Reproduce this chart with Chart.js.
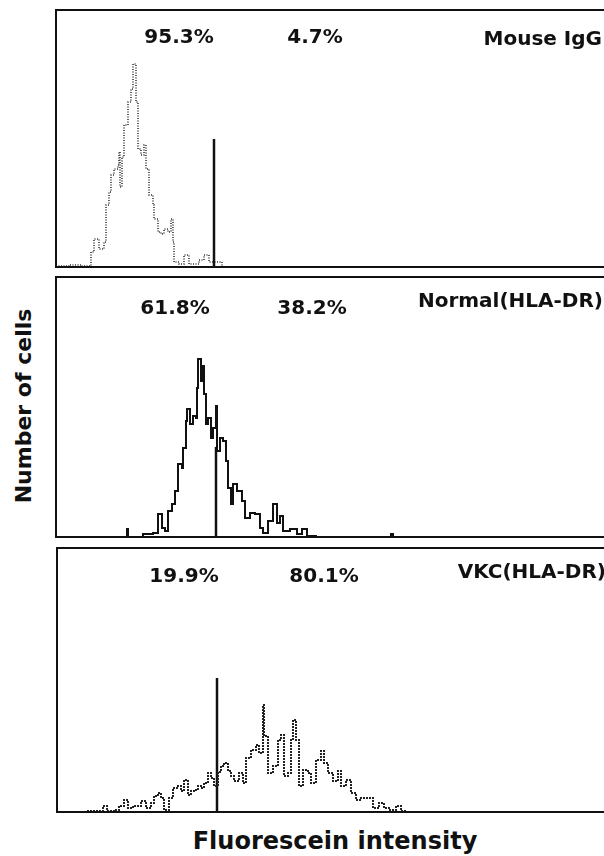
<!DOCTYPE html>
<html>
<head>
<meta charset="utf-8">
<script src="https://cdn.jsdelivr.net/npm/chart.js@4"></script>
<style>
  html, body { margin: 0; padding: 0; background: #fff; }
  body { width: 604px; height: 856px; position: relative; overflow: hidden; }
  canvas.panel { position: absolute; }
  .axis-title { position: absolute; font-family: "DejaVu Sans", sans-serif; font-weight: bold; color: #111; white-space: nowrap; }
</style>
</head>
<body>
<canvas id="p1" class="panel" width="620" height="261" style="left:54px; top:8px;"></canvas>
<canvas id="p2" class="panel" width="620" height="264" style="left:54px; top:275px;"></canvas>
<canvas id="p3" class="panel" width="620" height="268" style="left:55px; top:546px;"></canvas>
<div class="axis-title" id="ytitle" style="font-size:22px; left:23px; top:406px; transform: translate(-50%,-50%) rotate(-90deg);">Number of cells</div>
<div class="axis-title" id="xtitle" style="font-size:24px; left:335px; top:841px; transform: translate(-50%,-50%);">Fluorescein intensity</div>
<script>
// canais de fluorescencia (x) e numero de celulas (y)
const mouseChannels = [0, 13, 25, 33, 35, 38, 43, 48, 50, 53, 55, 58, 62, 63, 64, 66, 68, 72, 75, 77, 80, 82, 85, 88, 90, 93, 97, 98, 102, 105, 108, 112, 115, 117, 118, 123, 128, 133, 143, 148, 153, 163, 166];
const mouseCounts   = [1, 2, 1, 1, 15, 28, 18, 25, 62, 75, 92, 98, 102, 115, 80, 110, 142, 165, 178, 203, 165, 118, 112, 122, 98, 72, 62, 48, 35, 33, 38, 35, 48, 25, 5, 3, 12, 3, 7, 12, 5, 5, 0];

const normalChannels = [60, 71, 72, 87, 97, 102, 106, 109, 112, 116, 119, 122, 126, 127, 130, 131, 134, 137, 140, 141, 142, 145, 147, 148, 150, 152, 155, 157, 160, 161, 164, 167, 170, 172, 175, 177, 181, 186, 189, 194, 199, 204, 207, 212, 217, 221, 224, 227, 234, 241, 246, 251, 260, 335, 337, 345];
const normalCounts   = [0, 8, 0, 3, 4, 23, 9, 6, 26, 33, 46, 73, 69, 89, 116, 128, 113, 121, 119, 149, 178, 156, 171, 143, 113, 119, 99, 109, 131, 86, 99, 96, 76, 49, 33, 53, 46, 36, 19, 24, 23, 9, 4, 16, 33, 14, 21, 6, 8, 3, 8, 1, 0, 3, 0, 0];

const vkcChannels = [30, 46, 50, 59, 62, 67, 71, 76, 84, 89, 94, 97, 101, 104, 107, 112, 116, 121, 124, 127, 131, 134, 137, 141, 144, 147, 151, 154, 157, 161, 164, 167, 171, 174, 177, 182, 186, 189, 194, 199, 202, 206, 207, 211, 216, 221, 224, 227, 231, 234, 236, 239, 242, 246, 251, 254, 259, 264, 267, 271, 276, 281, 284, 289, 294, 299, 304, 311, 316, 322, 327, 332, 339, 344, 350];
const vkcCounts   = [1, 6, 1, 2, 6, 12, 4, 6, 11, 4, 9, 16, 19, 14, 2, 14, 24, 26, 21, 32, 17, 21, 22, 26, 24, 29, 39, 34, 26, 40, 46, 49, 41, 36, 31, 39, 29, 54, 62, 67, 59, 107, 76, 39, 46, 72, 77, 36, 39, 72, 92, 72, 26, 42, 39, 29, 52, 61, 49, 39, 31, 41, 26, 32, 19, 12, 14, 14, 4, 9, 4, 2, 6, 1, 0];

// marcador (linha vertical) de cada painel: canal e altura
const markerChannels = [158, 160, 160];
const markerHeights  = [128, 90, 134];

const panelLabels = [
  ['95.3%', '4.7%', 'Mouse IgG'],
  ['61.8%', '38.2%', 'Normal(HLA-DR)'],
  ['19.9%', '80.1%', 'VKC(HLA-DR)']
];

function toPoints(xs, ys) {
  return xs.map((x, i) => ({ x: x, y: ys[i] }));
}

// moldura: esquerda, topo e base
const framePlugin = {
  id: 'frame',
  afterDraw(chart) {
    const a = chart.chartArea;
    const c = chart.ctx;
    c.save();
    c.strokeStyle = '#111';
    c.lineWidth = 2;
    c.beginPath();
    c.moveTo(a.right + 20, a.top);
    c.lineTo(a.left, a.top);
    c.lineTo(a.left, a.bottom);
    c.lineTo(a.right + 20, a.bottom);
    c.stroke();
    c.restore();
  }
};

// textos de cada painel
const labelPlugin = {
  id: 'panelText',
  afterDraw(chart, args, opts) {
    const c = chart.ctx;
    c.save();
    c.fillStyle = '#111';
    c.font = 'bold 20px "DejaVu Sans"';
    c.textBaseline = 'middle';
    opts.items.forEach(it => {
      c.textAlign = it.align;
      c.fillText(it.text, it.x, it.y);
    });
    c.restore();
  }
};

function makePanel(id, points, markerX, markerH, yMax, lineStyle, labels, pos) {
  const ctx = document.getElementById(id).getContext('2d');
  return new Chart(ctx, {
    type: 'line',
    data: {
      datasets: [
        {
          data: points,
          stepped: true,
          borderColor: lineStyle.color,
          borderWidth: lineStyle.width,
          borderDash: lineStyle.dash,
          pointRadius: 0,
          fill: false
        },
        {
          data: [{ x: markerX, y: 0 }, { x: markerX, y: markerH }],
          borderColor: '#111',
          borderWidth: 2.5,
          pointRadius: 0
        }
      ]
    },
    options: {
      responsive: false,
      animation: false,
      layout: { padding: 2 },
      scales: {
        x: { type: 'linear', min: 0, max: 616, display: false },
        y: { min: 0, max: yMax, display: false }
      },
      plugins: {
        legend: { display: false },
        tooltip: { enabled: false },
        panelText: {
          items: [
            { text: labels[0], x: pos[0][0], y: pos[0][1], align: 'center' },
            { text: labels[1], x: pos[1][0], y: pos[1][1], align: 'center' },
            { text: labels[2], x: pos[2][0], y: pos[2][1], align: 'right' }
          ]
        }
      }
    },
    plugins: [framePlugin, labelPlugin]
  });
}

makePanel('p1', toPoints(mouseChannels, mouseCounts), markerChannels[0], markerHeights[0], 257,
  { color: '#333', width: 1.6, dash: [1, 1.5] }, panelLabels[0],
  [[125, 30], [261, 30], [548, 32]]);

makePanel('p2', toPoints(normalChannels, normalCounts), markerChannels[1], markerHeights[1], 260,
  { color: '#111', width: 2, dash: [] }, panelLabels[1],
  [[121, 34], [258, 34], [549, 27]]);

makePanel('p3', toPoints(vkcChannels, vkcCounts), markerChannels[2], markerHeights[2], 264,
  { color: '#222', width: 2, dash: [2, 1] }, panelLabels[2],
  [[129, 31], [269, 31], [551, 27]]);
</script>
</body>
</html>
